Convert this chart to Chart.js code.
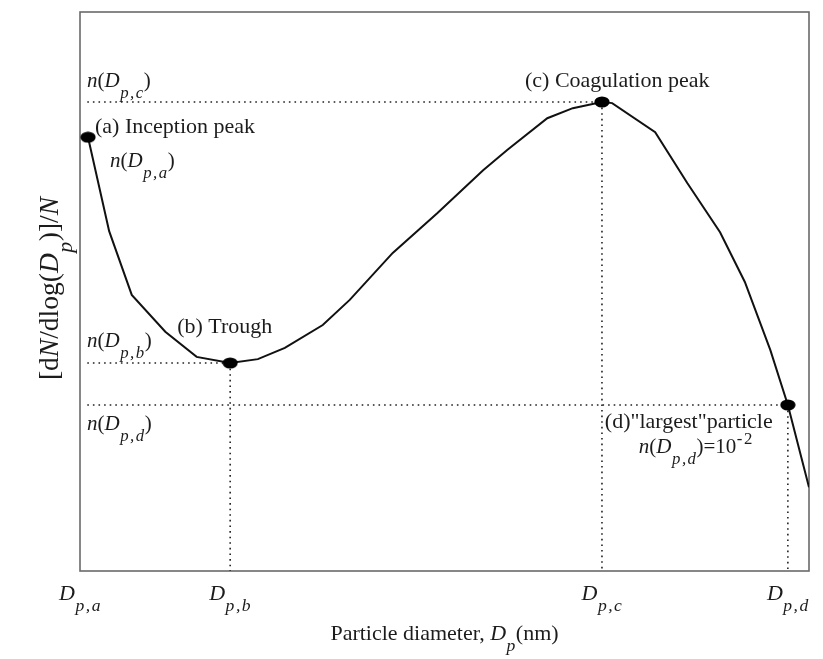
<!DOCTYPE html>
<html>
<head>
<meta charset="utf-8">
<script src="https://cdn.jsdelivr.net/npm/chart.js@4/dist/chart.umd.min.js"></script>
<style>
  body { margin: 0; background: #fff; }
  #wrap { width: 823px; height: 659px; }
</style>
</head>
<body>
<div id="wrap"><canvas id="psd"></canvas></div>
<script>
// size distribution curve (arbitrary linear units, 0..100 on both axes)
var curveX = [1.1, 4.0, 7.1, 11.7, 16.0, 20.6, 24.4, 28.1, 33.3, 37.0, 42.9, 49.0, 55.3, 58.6, 64.1, 67.6, 71.6, 73.0, 78.9, 83.3, 87.8, 91.2, 94.7, 97.1, 100]
var curveY = [77.6, 60.8, 49.4, 42.8, 38.3, 37.2, 37.9, 39.9, 44.0, 48.5, 56.9, 64.0, 71.7, 75.3, 81.0, 82.8, 83.9, 83.7, 78.5, 69.4, 60.6, 51.7, 39.5, 29.7, 15.0]

// characteristic points: (a) inception, (b) trough, (c) coagulation, (d) largest
var markNames = ["a", "b", "c", "d"]
var markX = [1.1, 20.6, 71.6, 97.1]
var markY = [77.6, 37.2, 83.9, 29.7]

// x tick positions and labels D_p,a ... D_p,d
var tickX = [0, 20.6, 71.6, 97.1]
var tickSubs = ["p,a", "p,b", "p,c", "p,d"]

var guideStart = 1.0

var SERIF = '"Liberation Serif", "Times New Roman", serif'
var INK = "#1c1c1c"

function pts(xs, ys) {
    var out = []
    for (var i = 0; i < xs.length; i++) out.push({ x: xs[i], y: ys[i] })
    return out
}

// filled ellipse used as the marker
function ellipseMarker() {
    var c = document.createElement("canvas")
    c.width = 16
    c.height = 12
    var g = c.getContext("2d")
    g.fillStyle = "#000"
    g.beginPath()
    g.ellipse(8, 6, 7.6, 5.6, 0, 0, Math.PI * 2)
    g.fill()
    return c
}

var dotted = {
    showLine: true,
    borderColor: "#222",
    borderWidth: 1.6,
    borderDash: [1.6, 4],
    pointRadius: 0,
    fill: false
}

var datasets = []
datasets.push({
    data: pts(markX, markY),
    pointStyle: ellipseMarker(),
    pointRadius: 7,
    showLine: false
})
datasets.push({
    data: pts(curveX, curveY),
    showLine: true,
    borderColor: "#111",
    borderWidth: 2,
    pointRadius: 0,
    tension: 0
})
// horizontal guides to b, c, d and vertical guides down from b, c, d
for (var k = 1; k < 4; k++) {
    datasets.push(Object.assign({}, dotted, {
        data: [{ x: guideStart, y: markY[k] }, { x: markX[k], y: markY[k] }]
    }))
    datasets.push(Object.assign({}, dotted, {
        data: [{ x: markX[k], y: markY[k] }, { x: markX[k], y: 0 }]
    }))
}

// text with italic / subscript / superscript runs
function runFont(p, size) {
    var s = (p.sub || p.sup) ? size * 0.8 : size
    return (p.i ? "italic " : "") + s + "px " + SERIF
}

function runWidth(ctx, p, size) {
    ctx.font = runFont(p, size)
    var w = ctx.measureText(p.t).width
    if (p.sub || p.sup) w += (p.t.length - 1) * 1.5 + 1
    return w
}

function drawRich(ctx, parts, x, y, size, align) {
    var total = 0
    parts.forEach(function (p) { total += runWidth(ctx, p, size) })
    var cx = align === "center" ? x - total / 2 : x
    ctx.fillStyle = INK
    ctx.textBaseline = "alphabetic"
    ctx.textAlign = "left"
    parts.forEach(function (p) {
        ctx.font = runFont(p, size)
        var dy = p.sub ? size * 0.52 : (p.sup ? -size * 0.42 : 0)
        if (p.sub || p.sup) {
            var px = cx + 0.5
            for (var j = 0; j < p.t.length; j++) {
                ctx.fillText(p.t[j], px, y + dy)
                px += ctx.measureText(p.t[j]).width + 1.5
            }
        } else {
            ctx.fillText(p.t, cx, y + dy)
        }
        cx += runWidth(ctx, p, size)
    })
}

function nLabel(sub, extra) {
    var parts = [{ t: "n", i: true }, { t: "(" }, { t: "D", i: true }, { t: sub, i: true, sub: true }, { t: ")" }]
    return parts.concat(extra || [])
}

var decorations = {
    id: "decorations",
    beforeDatasetsDraw: function (chart) {
        var a = chart.chartArea
        var ctx = chart.ctx
        ctx.save()
        ctx.strokeStyle = "#6a6a6a"
        ctx.lineWidth = 1.6
        ctx.strokeRect(a.left, a.top, a.right - a.left, a.bottom - a.top)
        ctx.restore()
    },
    afterDraw: function (chart) {
        var ctx = chart.ctx
        var xs = chart.scales.x
        var ys = chart.scales.y
        var a = chart.chartArea
        var X = function (v) { return xs.getPixelForValue(v) }
        var Y = function (v) { return ys.getPixelForValue(v) }
        ctx.save()

        // tick labels
        for (var i = 0; i < tickX.length; i++) {
            drawRich(ctx, [{ t: "D", i: true }, { t: tickSubs[i], i: true, sub: true }], X(tickX[i]), a.bottom + 29, 22, "center")
        }

        // axis titles
        drawRich(ctx, [{ t: "Particle diameter, " }, { t: "D", i: true }, { t: "p", i: true, sub: true }, { t: "(nm)" }],
            (a.left + a.right) / 2 + 0, a.bottom + 69, 22, "center")
        ctx.save()
        ctx.translate(58, (a.top + a.bottom) / 2 - 3)
        ctx.rotate(-Math.PI / 2)
        drawRich(ctx, [{ t: "[d" }, { t: "N", i: true }, { t: "/dlog(" }, { t: "D", i: true }, { t: "p", i: true, sub: true },
            { t: ")]/" }, { t: "N", i: true }], 0, 0, 27.5, "center")
        ctx.restore()

        // annotations at the characteristic points
        var ax = X(markX[0]), ay = Y(markY[0])
        var bx = X(markX[1]), by = Y(markY[1])
        var cx = X(markX[2]), cy = Y(markY[2])
        var dx = X(markX[3]), dy = Y(markY[3])
        var left = a.left + 7

        drawRich(ctx, [{ t: "(a) Inception peak" }], ax + 7, ay - 4, 22)
        drawRich(ctx, nLabel("p,a"), ax + 22, ay + 30, 21)
        drawRich(ctx, [{ t: "(b) Trough" }], bx - 53, by - 30, 22)
        drawRich(ctx, nLabel("p,b"), left, by - 16, 21)
        drawRich(ctx, [{ t: "(c) Coagulation peak" }], cx - 77, cy - 15, 22)
        drawRich(ctx, nLabel("p,c"), left, cy - 15, 21)
        drawRich(ctx, nLabel("p,d"), left, dy + 25, 21)
        drawRich(ctx, [{ t: "(d)\"largest\"particle" }], dx - 183, dy + 23, 22)
        drawRich(ctx, nLabel("p,d", [{ t: "=10" }, { t: "-2", sup: true }]), dx - 149, dy + 48, 21)

        ctx.restore()
    }
}

new Chart("psd", {
    type: "scatter",
    data: { datasets: datasets },
    options: {
        responsive: true,
        maintainAspectRatio: false,
        animation: false,
        layout: { padding: { left: 80, top: 12, right: 14, bottom: 88 } },
        scales: {
            x: { type: "linear", min: 0, max: 100, display: false },
            y: { type: "linear", min: 0, max: 100, display: false }
        },
        plugins: {
            legend: { display: false },
            tooltip: { enabled: false }
        }
    },
    plugins: [decorations]
});
</script>
</body>
</html>
